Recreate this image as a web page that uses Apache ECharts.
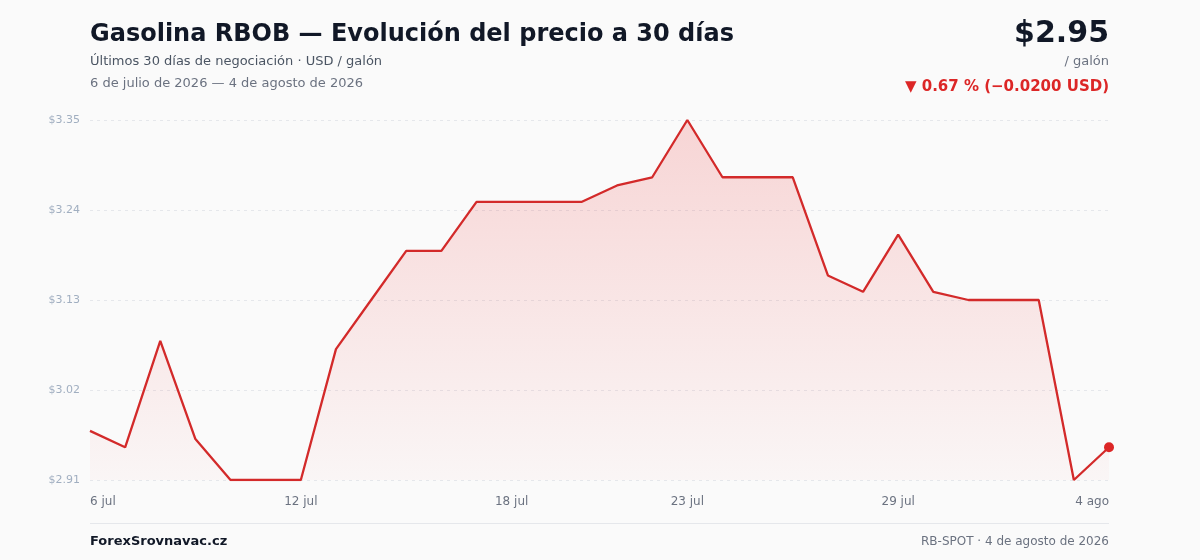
<!DOCTYPE html>
<html>
<head>
<meta charset="utf-8">
<script src="https://cdn.jsdelivr.net/npm/echarts@6/dist/echarts.min.js"></script>
<style>
html,body{margin:0;padding:0;background:#fafafa;}
#c{width:1200px;height:560px;}
</style>
</head>
<body>
<div id="c"></div>
<script>
var categories = ['6 jul','7 jul','8 jul','9 jul','10 jul','11 jul','12 jul','13 jul','14 jul','15 jul','16 jul','17 jul','18 jul','19 jul','20 jul','21 jul','22 jul','23 jul','24 jul','25 jul','26 jul','27 jul','28 jul','29 jul','30 jul','31 jul','1 ago','2 ago','3 ago','4 ago'];
var prices = [2.97,2.95,3.08,2.96,2.91,2.91,2.91,3.07,3.13,3.19,3.19,3.25,3.25,3.25,3.25,3.27,3.28,3.35,3.28,3.28,3.28,3.16,3.14,3.21,3.14,3.13,3.13,3.13,2.91,2.95];
var yTicks = [2.91,3.02,3.13,3.24,3.35];
var xLabelIdx = [0,6,12,17,23,29];

var FONT = 'DejaVu Sans';
var chart = echarts.init(document.getElementById('c'), null, {renderer:'canvas'});
var last = prices.length - 1;
chart.setOption({
  backgroundColor:'#fafafa',
  textStyle:{fontFamily:FONT},
  title:[
    {text:'Gasolina RBOB — Evolución del precio a 30 días', left:90, top:23, padding:0,
     textStyle:{fontFamily:FONT,fontSize:24,fontWeight:'bold',color:'#111827'}},
    {text:'Últimos 30 días de negociación · USD / galón', left:90, top:55, padding:0,
     textStyle:{fontFamily:FONT,fontSize:13,fontWeight:'normal',color:'#4b5563'}},
    {text:'6 de julio de 2026 — 4 de agosto de 2026', left:90, top:77, padding:0,
     textStyle:{fontFamily:FONT,fontSize:13,fontWeight:'normal',color:'#6b7280'}},
    {text:'$2.95', right:91, top:19, padding:0,
     textStyle:{fontFamily:FONT,fontSize:30,fontWeight:'bold',color:'#111827'}},
    {text:'/ galón', right:91, top:55, padding:0,
     textStyle:{fontFamily:FONT,fontSize:13,fontWeight:'normal',color:'#6b7280'}},
    {text:'▼ 0.67 % (−0.0200 USD)', right:91, top:80, padding:0,
     textStyle:{fontFamily:FONT,fontSize:15,fontWeight:'bold',color:'#dc2626'}},
    {text:'ForexSrovnavac.cz', left:90, top:535, padding:0,
     textStyle:{fontFamily:FONT,fontSize:13,fontWeight:'bold',color:'#111827'}},
    {text:'RB-SPOT · 4 de agosto de 2026', right:91, top:536, padding:0,
     textStyle:{fontFamily:FONT,fontSize:12,fontWeight:'normal',color:'#6b7280'}}
  ],
  graphic:[
    {type:'rect', shape:{x:90,y:523,width:1019,height:1}, style:{fill:'#e5e7eb'}}
  ],
  grid:{left:90,right:91,top:120,bottom:80,containLabel:false},
  xAxis:{
    type:'category', data:categories, boundaryGap:false,
    axisLine:{show:false}, axisTick:{show:false},
    axisLabel:{
      interval:function(i){return xLabelIdx.indexOf(i)>=0;},
      color:'#6b7280', fontSize:12, fontFamily:FONT, margin:16,
      alignMinLabel:'left', alignMaxLabel:'right'
    },
    splitLine:{show:false}
  },
  yAxis:{
    type:'value', min:yTicks[0], max:yTicks[yTicks.length-1],
    axisLine:{show:false},
    axisTick:{show:false, customValues:yTicks},
    axisLabel:{customValues:yTicks, color:'#a0aec0', fontSize:11, fontFamily:FONT, margin:10,
      formatter:function(v){return '$'+v.toFixed(2);}},
    splitLine:{show:true, lineStyle:{color:'#e5e7eb', type:[3,4], width:1}}
  },
  series:[{
    type:'line', data:prices, smooth:false,
    showSymbol:true, showAllSymbol:true, symbol:'circle',
    symbolSize:function(v,p){return p.dataIndex===last?10:0;},
    itemStyle:{color:'#dc2626'},
    lineStyle:{color:'#d32a2a', width:2.3},
    areaStyle:{color:new echarts.graphic.LinearGradient(0,0,0,1,[
      {offset:0,color:'rgba(235,45,45,0.26)'},
      {offset:1,color:'rgba(235,45,45,0.03)'}
    ])},
    animation:false
  }],
  animation:false
});
</script>
</body>
</html>
